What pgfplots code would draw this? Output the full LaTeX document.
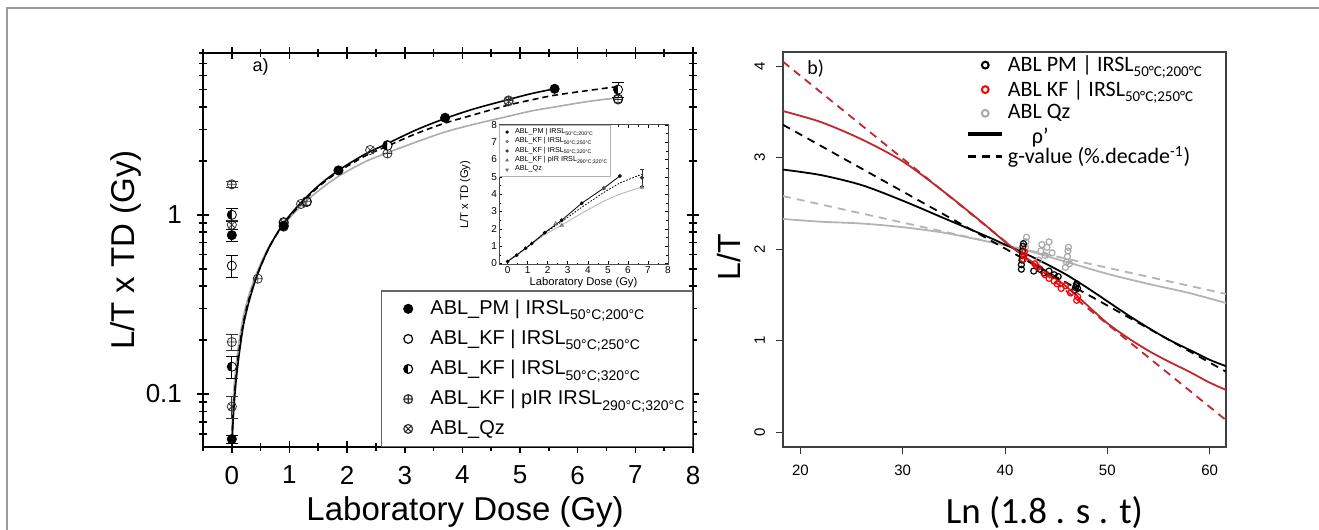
\documentclass[border=0pt]{standalone}
\usepackage{fontspec}
\setmainfont{Liberation Sans}
\newfontfamily\carlito{Carlito}
\usepackage{pgfplots}
\pgfplotsset{compat=1.18}
\usetikzlibrary{plotmarks}
\definecolor{rline}{HTML}{C1272D}
\definecolor{rmark}{HTML}{FF0000}
\definecolor{gline}{HTML}{B4B4B4}
\definecolor{gmark}{HTML}{A8A8A8}
\definecolor{framec}{HTML}{9A9A9A}
\newcommand{\sub}[2][7]{\raisebox{-0.5ex}{\fontsize{#1}{#1}\selectfont #2}}
\begin{document}
\begin{tikzpicture}
% ---------------- panel a ----------------
\begin{axis}[
  at={(101.5pt,-26.5pt)}, anchor=north west,
  scale only axis, width=245pt, height=197pt,
  xmin=-0.5, xmax=8, ymode=log, ymin=0.0506, ymax=8,
  xtick={0,1,2,3,4,5,6,7,8}, minor xtick={-0.5,0.5,1.5,2.5,3.5,4.5,5.5,6.5,7.5},
  ytick={0.1,1}, yticklabels={0.1,1},
  minor ytick={0.06,0.07,0.08,0.09,0.2,0.3,0.4,0.5,0.6,0.7,0.8,0.9,2,3,4,5,6,7,8},
  tick align=center, major tick length=6pt, minor tick length=4pt,
  every tick/.style={black, line width=0.8pt},
  axis line style={line width=0.9pt},
  /pgf/number format/assume math mode=true,
  ticklabel style={font=\fontsize{13}{13}\selectfont},
  xticklabel style={yshift=-3pt},
  yticklabel style={xshift=-4pt},
  xlabel={Laboratory Dose (Gy)}, ylabel={L/T x TD (Gy)},
  xlabel style={at={(axis description cs:0.535,-0.165)}, anchor=center, font=\fontsize{16.5}{17}\selectfont},
  ylabel style={at={(axis description cs:-0.157,0.5)}, anchor=center, font=\fontsize{16.5}{17}\selectfont},
  legend style={at={(rel axis cs:1,0)}, anchor=south east, draw=black!60, line width=0.6pt, fill=white,
    font=\fontsize{10}{12}\selectfont, row sep=2.3pt, inner xsep=2pt, inner ysep=2.5pt},
  legend cell align=left,
  legend image code/.code={\path[draw=none,fill=none] (0cm,0cm) -- (0.72cm,0cm); \draw[#1] plot coordinates {(0.4cm,0cm)};},
]
\addlegendimage{only marks, mark=*, mark size=2.2pt, black}
\addlegendentry{ABL\_PM | IRSL\sub{50°C;200°C}}
\addlegendimage{only marks, mark=o, mark size=2.2pt, black}
\addlegendentry{ABL\_KF | IRSL\sub{50°C;250°C}}
\addlegendimage{only marks, mark=halfcircle*, mark size=2.2pt, black, mark options={rotate=90, fill=black}}
\addlegendentry{ABL\_KF | IRSL\sub{50°C;320°C}}
\addlegendimage{only marks, mark=oplus, mark size=2.2pt, black!80}
\addlegendentry{ABL\_KF | pIR IRSL\sub{290°C;320°C}}
\addlegendimage{only marks, mark=otimes, mark size=2.2pt, black!80}
\addlegendentry{ABL\_Qz}
% fitted curves
\addplot[gray!65, line width=0.8pt, smooth, forget plot] coordinates {
(0,0.06)(0.03,0.1)(0.07,0.14)(0.12,0.19)(0.2,0.27)(0.3,0.36)(0.45,0.49)(0.65,0.67)(0.9,0.88)(1.2,1.12)(1.5,1.36)(1.85,1.64)(2.3,1.97)(2.7,2.22)(3.2,2.55)(3.7,2.9)(4.2,3.2)(4.8,3.55)(5.2,3.8)(5.6,4.0)(6.2,4.3)(6.7,4.5)};
\addplot[black, line width=0.8pt, dash pattern=on 3pt off 2pt, smooth, forget plot] coordinates {
(0,0.055)(0.03,0.085)(0.07,0.12)(0.12,0.17)(0.2,0.25)(0.3,0.34)(0.45,0.47)(0.65,0.66)(0.9,0.89)(1.2,1.15)(1.5,1.43)(1.85,1.74)(2.3,2.12)(2.7,2.42)(3.2,2.84)(3.7,3.25)(4.2,3.62)(4.8,4.1)(5.2,4.38)(5.6,4.65)(6.2,4.95)(6.7,5.2)};
\addplot[black, line width=0.8pt, smooth, forget plot] coordinates {
(0,0.05)(0.03,0.078)(0.07,0.115)(0.12,0.16)(0.2,0.24)(0.3,0.33)(0.45,0.47)(0.65,0.66)(0.9,0.9)(1.2,1.17)(1.5,1.45)(1.85,1.77)(2.3,2.17)(2.7,2.5)(3.2,2.98)(3.7,3.45)(4.2,3.9)(4.8,4.4)(5.2,4.75)(5.6,5.05)};
% data with error bars (x = 0 points)
\addplot[only marks, mark=o, mark size=2.3pt, black, forget plot,
  error bars/.cd, y dir=both, y explicit, error bar style={line width=0.5pt}, error mark options={rotate=90, mark size=3pt}]
  coordinates {(0,0.52) +- (0,0.07)};
\addplot[only marks, mark=oplus, mark size=2.3pt, black!80, forget plot,
  error bars/.cd, y dir=both, y explicit, error bar style={line width=0.5pt}, error mark options={rotate=90, mark size=3pt}]
  coordinates {(0,1.48) +- (0,0.05) (0,0.195) +- (0,0.02)};
\addplot[only marks, mark=otimes, mark size=2.3pt, black!80, forget plot,
  error bars/.cd, y dir=both, y explicit, error bar style={line width=0.5pt}, error mark options={rotate=90, mark size=3pt}]
  coordinates {(0,0.085) +- (0,0.012) (0,0.88) +- (0,0.05)};
\addplot[only marks, mark=*, mark size=2.3pt, black, forget plot,
  error bars/.cd, y dir=both, y explicit, error bar style={line width=0.5pt}, error mark options={rotate=90, mark size=3pt}]
  coordinates {(0,0.056) +- (0,0.003) (0,0.77) +- (0,0.06)};
\addplot[only marks, mark=halfcircle*, mark size=2.3pt, black, mark options={rotate=90, fill=black}, forget plot,
  error bars/.cd, y dir=both, y explicit, error bar style={line width=0.5pt}, error mark options={rotate=90, mark size=3pt}]
  coordinates {(0,0.142) +- (0,0.02) (0,1.0) +- (0,0.08) (6.7,5.0) +- (0,0.45)};
% other data
\addplot[only marks, mark=oplus, mark size=2.3pt, black!80, forget plot] coordinates {(0.45,0.44)(1.3,1.19)(2.7,2.2)(4.8,4.35)(6.7,4.4)};
\addplot[only marks, mark=otimes, mark size=2.3pt, black!80, forget plot] coordinates {(0.9,0.9)(1.2,1.15)(2.4,2.3)(4.8,4.3)};
\addplot[only marks, mark=o, mark size=2.3pt, black, forget plot] coordinates {(0.9,0.91)(1.3,1.18)(2.7,2.45)(6.7,4.45)};
\addplot[only marks, mark=halfcircle*, mark size=2.3pt, black, mark options={rotate=90, fill=black}, forget plot] coordinates {(0.9,0.86)(2.7,2.43)};
\addplot[only marks, mark=*, mark size=2.3pt, black, forget plot] coordinates {(0.9,0.87)(1.85,1.77)(3.7,3.48)(5.6,5.05)};
\node[font=\fontsize{9}{9}\selectfont] at (axis cs:0.5,6.7) {a)};
\end{axis}
% ---------------- inset ----------------
\begin{axis}[
  at={(249.5pt,-62.4pt)}, anchor=north west, scale only axis, width=84.5pt, height=69.8pt,
  axis background/.style={fill=white},
  xmin=-0.43, xmax=8, ymin=-0.05, ymax=8,
  xtick={0,1,2,3,4,5,6,7,8}, ytick={0,1,2,3,4,5,6,7,8}, minor x tick num=1, minor y tick num=1,
  tick align=inside, major tick length=1.6pt, minor tick length=0.9pt,
  every tick/.style={black, line width=0.3pt},
  axis line style={line width=0.4pt, black!70},
  /pgf/number format/assume math mode=true,
  ticklabel style={font=\fontsize{5}{5}\selectfont, inner sep=0.8pt},
  xlabel={Laboratory Dose (Gy)}, ylabel={L/T x TD (Gy)},
  label style={font=\fontsize{5.6}{6}\selectfont},
  xlabel style={at={(axis description cs:0.5,-0.13)}, anchor=center},
  ylabel style={at={(axis description cs:-0.2,0.5)}, anchor=center},
  legend style={at={(rel axis cs:0,1)}, anchor=north west, draw=gray!60, line width=0.4pt, fill=white,
    font=\fontsize{3.6}{3.8}\selectfont, row sep=-0.6pt, inner xsep=1pt, inner ysep=0.8pt, nodes={inner sep=0.6pt}},
  legend cell align=left,
  legend image code/.code={\path[draw=none,fill=none] (0cm,0cm) -- (0.22cm,0cm); \draw[#1] plot coordinates {(0.1cm,0cm)};},
]
\addlegendimage{only marks, mark=*, mark size=0.6pt, black}
\addlegendentry{ABL\_PM | IRSL\sub[2.6]{50°C;200°C}}
\addlegendimage{only marks, mark=o, mark size=0.6pt, black!60}
\addlegendentry{ABL\_KF | IRSL\sub[2.6]{50°C;250°C}}
\addlegendimage{only marks, mark=*, mark size=0.6pt, black!80}
\addlegendentry{ABL\_KF | IRSL\sub[2.6]{50°C;320°C}}
\addlegendimage{only marks, mark=triangle, mark size=0.7pt, black!60}
\addlegendentry{ABL\_KF | pIR IRSL\sub[2.6]{290°C;320°C}}
\addlegendimage{only marks, mark=triangle, mark size=0.7pt, mark options={rotate=180}, black!60}
\addlegendentry{ABL\_Qz}
\addplot[gray!60, line width=0.4pt, forget plot] coordinates {(0,0.15)(0.9,0.88)(1.85,1.66)(2.7,2.22)(3.7,2.9)(4.8,3.6)(5.6,4.0)(6.7,4.42)};
\addplot[black, line width=0.4pt, dash pattern=on 0.8pt off 0.8pt, forget plot] coordinates {(0,0.12)(0.9,0.88)(1.85,1.75)(2.7,2.42)(3.7,3.25)(4.8,4.1)(5.6,4.65)(6.7,5.15)};
\addplot[black, line width=0.4pt, mark=*, mark size=0.7pt, forget plot] coordinates {(0,0.12)(0.45,0.48)(0.9,0.88)(1.2,1.15)(1.85,1.78)(2.7,2.5)(3.7,3.48)(4.8,4.35)(5.6,5.05)};
\addplot[only marks, mark=triangle, mark size=0.9pt, black!60, forget plot] coordinates {(2.4,2.3)(2.7,2.2)(4.8,4.35)(6.7,4.4)};
\addplot[only marks, mark=*, mark size=0.8pt, black!80, forget plot,
  error bars/.cd, y dir=both, y explicit, error bar style={line width=0.3pt}, error mark options={rotate=90, mark size=0.8pt}]
  coordinates {(6.7,4.95) +- (0,0.5)};
\end{axis}
% ---------------- panel b ----------------
\begin{axis}[
  at={(391.5pt,-26pt)}, anchor=north west, scale only axis, width=221.5pt, height=197.5pt,
  xmin=18.3, xmax=61.6, ymin=-0.164, ymax=4.156,
  xtick={20,30,40,50,60}, ytick={0,1,2,3,4},
  tick pos=left, tick align=outside, major tick length=3.5pt,
  every tick/.style={black!80, line width=0.5pt},
  axis line style={black!75, line width=0.6pt},
  /pgf/number format/assume math mode=true,
  ticklabel style={font=\fontsize{7.5}{8}\selectfont},
  xticklabel style={yshift=-2pt},
  yticklabel style={xshift=-2pt, rotate=90, anchor=south},
  xlabel={Ln (1.8 . s . t)}, ylabel={L/T},
  xlabel style={at={(axis description cs:0.59,-0.165)}, anchor=center, font=\fontsize{18.5}{19}\selectfont\carlito},
  ylabel style={at={(axis description cs:-0.122,0.48)}, anchor=center, font=\fontsize{16}{16}\selectfont},
  legend style={at={(axis description cs:0.40,1.012)}, anchor=north west, draw=none, fill=none,
    font=\fontsize{11}{12}\selectfont\carlito, row sep=-1.2pt},
  legend cell align=left,
]
\addlegendimage{only marks, mark=o, mark size=1.7pt, line width=1pt, black}
\addlegendentry{ABL PM | IRSL\sub[7.5]{50°C;200°C}}
\addlegendimage{only marks, mark=o, mark size=1.7pt, line width=1pt, rmark}
\addlegendentry{ABL KF | IRSL\sub[7.5]{50°C;250°C}}
\addlegendimage{only marks, mark=o, mark size=1.7pt, line width=1pt, gmark}
\addlegendentry{ABL Qz}
\addlegendimage{black, line width=1.6pt}
\addlegendentry{\hspace{12pt}\raisebox{-3pt}[5pt][1.5pt]{ρ’}}
\addlegendimage{black, line width=1.6pt, dash pattern=on 4pt off 3pt}
\addlegendentry{g-value (\%.decade\textsuperscript{-1})}
% lines
\addplot[gline, line width=0.9pt, dash pattern=on 4pt off 3pt, forget plot] coordinates {(18.3,2.58)(61.6,1.51)};
\addplot[gline, line width=0.9pt, smooth, forget plot] coordinates {(18.3,2.33)(22,2.3)(26,2.28)(30,2.24)(34,2.18)(38,2.09)(40,2.04)(42,1.99)(46,1.86)(50,1.73)(54,1.62)(58,1.52)(61.6,1.41)};
\addplot[black, line width=0.9pt, dash pattern=on 4pt off 3pt, forget plot] coordinates {(18.3,3.36)(61.6,0.66)};
\addplot[black, line width=0.9pt, smooth, forget plot] coordinates {(18.3,2.87)(22,2.81)(26,2.7)(30,2.53)(34,2.34)(38,2.15)(40,2.05)(42,1.95)(44,1.84)(46,1.72)(48,1.58)(50,1.43)(52,1.28)(54,1.14)(56,1.01)(58,0.9)(60,0.79)(61.6,0.72)};
\addplot[rline, line width=0.9pt, dash pattern=on 4pt off 3pt, forget plot] coordinates {(18.3,4.05)(61.6,0.13)};
\addplot[rline, line width=0.9pt, smooth, forget plot] coordinates {(18.3,3.51)(22,3.39)(26,3.2)(30,2.96)(34,2.63)(38,2.27)(40,2.08)(42,1.91)(44,1.76)(46,1.59)(48,1.39)(50,1.19)(52,1.03)(54,0.89)(56,0.77)(58,0.66)(60,0.54)(61.6,0.46)};
% points
\addplot[only marks, mark=o, mark size=1.5pt, line width=0.6pt, gmark, forget plot] coordinates {
(41.9,1.96)(42,2.02)(42.05,2.08)(42.1,2.13)(43.3,1.88)(43.5,1.98)(43.6,2.05)(43.9,1.93)(44.1,2.02)(44.3,2.08)(44.6,1.96)(45.9,1.8)(46,1.86)(46.1,1.92)(46.15,1.98)(46.2,2.02)(46.3,1.84)};
\addplot[only marks, mark=o, mark size=1.5pt, line width=0.6pt, black, forget plot] coordinates {
(41.6,1.78)(41.6,1.83)(41.65,1.88)(41.7,1.93)(41.7,1.98)(41.75,2.03)(41.8,2.06)(42.8,1.76)(43.4,1.78)(43.8,1.74)(44.3,1.76)(44.8,1.72)(45.2,1.7)(46.8,1.55)(46.9,1.58)(47,1.62)(46.95,1.6)(47.1,1.57)};
\addplot[only marks, mark=o, mark size=1.5pt, line width=0.6pt, rmark, forget plot] coordinates {
(41.8,1.89)(41.85,1.93)(41.9,1.97)(42.9,1.84)(43.2,1.8)(43.9,1.72)(44.3,1.68)(44.8,1.65)(45.1,1.62)(45.5,1.57)(45.9,1.6)(46.4,1.52)(47,1.44)(47.1,1.48)};
\node[font=\fontsize{10}{10}\selectfont\carlito] at (axis cs:21.5,3.98) {b)};
\end{axis}
% outer frame
\draw[framec, line width=0.9pt] (3.4pt,-266pt) -- (3.4pt,-4pt) -- (660pt,-4pt);
\pgfresetboundingbox
\useasboundingbox (0,0) rectangle (659.5pt,-265pt);
\end{tikzpicture}
\end{document}
